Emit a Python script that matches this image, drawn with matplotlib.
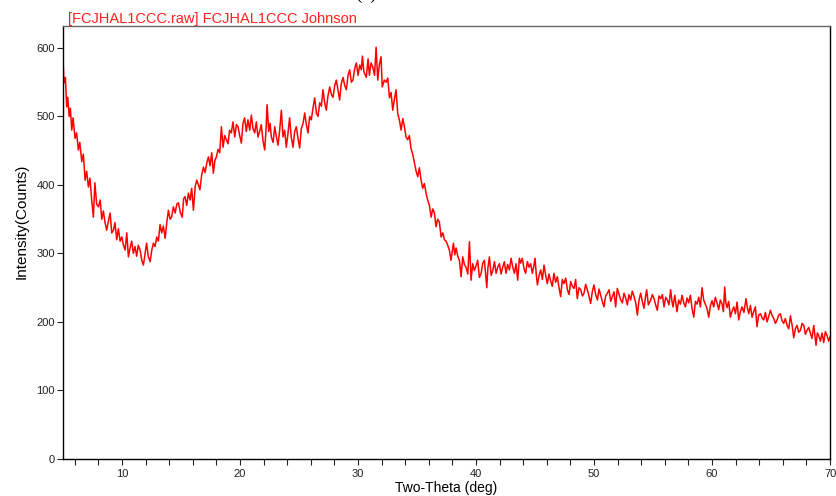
import matplotlib
matplotlib.use("Agg")
import matplotlib.pyplot as plt
from matplotlib.ticker import MultipleLocator

plt.rcParams['font.family'] = ['Liberation Sans', 'DejaVu Sans']

# scan: 2-theta (deg) and intensity (counts)
two_theta = [
    5.00, 5.05, 5.10, 5.20, 5.31, 5.40, 5.52, 5.62, 5.74, 5.85,
    6.02, 6.15, 6.30, 6.42, 6.59, 6.72, 6.87, 7.00, 7.15, 7.28,
    7.43, 7.57, 7.70, 7.85, 8.00, 8.15, 8.28, 8.42, 8.56, 8.70,
    8.85, 8.99, 9.13, 9.27, 9.40, 9.55, 9.69, 9.84, 9.98, 10.12,
    10.26, 10.40, 10.54, 10.68, 10.82, 10.96, 11.10, 11.24, 11.38, 11.53,
    11.67, 11.81, 11.95, 12.08, 12.22, 12.38, 12.52, 12.66, 12.80, 12.94,
    13.08, 13.22, 13.36, 13.50, 13.65, 13.79, 13.93, 14.07, 14.20, 14.35,
    14.50, 14.64, 14.78, 14.94, 15.10, 15.22, 15.34, 15.48, 15.62, 15.77,
    15.90, 16.05, 16.20, 16.33, 16.47, 16.60, 16.75, 16.90, 17.04, 17.18,
    17.32, 17.46, 17.60, 17.74, 17.87, 18.00, 18.14, 18.28, 18.42, 18.56,
    18.70, 18.84, 18.98, 19.12, 19.26, 19.40, 19.55, 19.69, 19.83, 19.97,
    20.11, 20.25, 20.39, 20.53, 20.67, 20.82, 20.96, 21.10, 21.24, 21.38,
    21.52, 21.66, 21.80, 21.94, 22.09, 22.20, 22.29, 22.43, 22.55, 22.65,
    22.80, 22.94, 23.08, 23.22, 23.36, 23.50, 23.64, 23.78, 23.92, 24.06,
    24.20, 24.34, 24.49, 24.63, 24.77, 24.91, 25.05, 25.19, 25.34, 25.48,
    25.62, 25.76, 25.90, 26.04, 26.18, 26.33, 26.47, 26.61, 26.75, 26.89,
    27.03, 27.17, 27.31, 27.45, 27.60, 27.74, 27.88, 28.02, 28.16, 28.30,
    28.44, 28.58, 28.73, 28.87, 29.01, 29.15, 29.29, 29.43, 29.57, 29.72,
    29.86, 30.00, 30.14, 30.28, 30.37, 30.50, 30.70, 30.85, 30.96, 31.10,
    31.25, 31.40, 31.53, 31.67, 31.80, 31.95, 32.05, 32.23, 32.38, 32.52,
    32.66, 32.80, 32.94, 33.08, 33.22, 33.36, 33.50, 33.65, 33.79, 33.93,
    34.07, 34.21, 34.35, 34.49, 34.63, 34.78, 34.92, 35.06, 35.20, 35.34,
    35.48, 35.62, 35.76, 35.90, 36.05, 36.19, 36.33, 36.47, 36.61, 36.75,
    36.89, 37.04, 37.18, 37.32, 37.46, 37.60, 37.74, 37.88, 38.08, 38.20,
    38.31, 38.45, 38.59, 38.73, 38.87, 39.01, 39.15, 39.30, 39.44, 39.58,
    39.72, 39.86, 40.00, 40.14, 40.28, 40.43, 40.57, 40.71, 40.91, 41.00,
    41.13, 41.28, 41.42, 41.56, 41.70, 41.84, 41.98, 42.12, 42.26, 42.40,
    42.54, 42.68, 42.83, 42.97, 43.11, 43.25, 43.39, 43.53, 43.67, 43.78,
    43.92, 44.06, 44.20, 44.35, 44.49, 44.63, 44.77, 44.90, 45.00, 45.10,
    45.20, 45.34, 45.48, 45.62, 45.76, 45.90, 46.04, 46.18, 46.32, 46.46,
    46.60, 46.75, 46.89, 47.03, 47.17, 47.31, 47.45, 47.60, 47.74, 47.88,
    48.02, 48.16, 48.30, 48.44, 48.58, 48.72, 48.87, 49.01, 49.15, 49.29,
    49.43, 49.57, 49.71, 49.85, 49.99, 50.14, 50.28, 50.42, 50.56, 50.70,
    50.84, 50.98, 51.13, 51.27, 51.41, 51.55, 51.69, 51.83, 51.97, 52.12,
    52.26, 52.40, 52.54, 52.68, 52.82, 52.96, 53.10, 53.24, 53.39, 53.53,
    53.67, 53.81, 53.95, 54.09, 54.23, 54.37, 54.46, 54.60, 54.80, 54.94,
    55.08, 55.22, 55.36, 55.50, 55.65, 55.79, 55.93, 56.07, 56.21, 56.35,
    56.49, 56.61, 56.69, 56.84, 57.03, 57.17, 57.32, 57.46, 57.60, 57.74,
    57.88, 58.02, 58.16, 58.30, 58.45, 58.59, 58.73, 58.87, 59.01, 59.15,
    59.29, 59.43, 59.57, 59.72, 59.86, 60.00, 60.14, 60.28, 60.42, 60.56,
    60.70, 60.85, 60.96, 61.07, 61.17, 61.27, 61.41, 61.55, 61.70, 61.84,
    61.98, 62.12, 62.26, 62.40, 62.54, 62.70, 62.88, 63.00, 63.11, 63.25,
    63.39, 63.53, 63.67, 63.81, 63.95, 64.10, 64.24, 64.38, 64.52, 64.66,
    64.80, 64.94, 65.08, 65.23, 65.37, 65.51, 65.65, 65.79, 65.93, 66.07,
    66.21, 66.36, 66.50, 66.64, 66.78, 66.92, 67.06, 67.20, 67.34, 67.49,
    67.63, 67.77, 67.91, 68.05, 68.19, 68.33, 68.47, 68.62, 68.72, 68.81,
    68.92, 69.04, 69.18, 69.32, 69.46, 69.60, 69.75, 69.88, 70.00,
]

counts = [
    585, 560, 549, 557, 514, 528, 500, 512, 480, 498,
    468, 476, 451, 462, 434, 445, 407, 420, 397, 410,
    378, 353, 403, 372, 368, 378, 350, 362, 345, 334,
    348, 359, 330, 334, 345, 320, 336, 318, 324, 312,
    305, 330, 295, 308, 318, 300, 310, 296, 312, 305,
    290, 283, 300, 315, 296, 288, 305, 315, 310, 324,
    318, 342, 330, 340, 322, 345, 363, 350, 353, 368,
    359, 372, 374, 360, 353, 380, 383, 370, 388, 378,
    395, 363, 398, 407, 400, 393, 415, 426, 418, 432,
    441, 428, 447, 417, 436, 441, 452, 447, 485, 455,
    472, 466, 460, 480, 476, 492, 470, 488, 485, 472,
    461, 490, 498, 478, 495, 480, 502, 482, 476, 492,
    470, 478, 488, 465, 451, 480, 517, 478, 490, 470,
    462, 485, 470, 458, 480, 509, 470, 480, 455, 475,
    498, 470, 455, 478, 485, 468, 454, 482, 490, 505,
    488, 476, 500, 495, 512, 527, 505, 500, 520, 515,
    539, 520, 509, 530, 543, 532, 528, 545, 553, 538,
    524, 548, 557, 545, 539, 560, 568, 550, 553, 570,
    578, 560, 575, 568, 588, 565, 557, 584, 560, 578,
    572, 560, 601, 553, 575, 587, 543, 553, 550, 556,
    527, 535, 509, 525, 539, 505, 495, 480, 497, 485,
    470, 466, 472, 453, 445, 432, 420, 412, 425, 407,
    395, 402, 388, 378, 370, 353, 365, 359, 339, 350,
    346, 324, 330, 320, 318, 312, 305, 290, 315, 298,
    308, 296, 290, 266, 295, 284, 280, 270, 317, 261,
    285, 275, 282, 290, 265, 271, 286, 290, 250, 278,
    295, 268, 275, 288, 271, 280, 285, 270, 280, 288,
    271, 284, 276, 293, 280, 271, 285, 261, 293, 286,
    293, 278, 271, 288, 280, 285, 271, 282, 293, 270,
    254, 268, 276, 262, 283, 268, 256, 270, 260, 252,
    271, 258, 266, 250, 237, 262, 256, 264, 247, 240,
    259, 252, 249, 262, 234, 250, 247, 238, 242, 255,
    247, 238, 227, 244, 254, 240, 232, 248, 239, 230,
    222, 238, 242, 247, 230, 237, 244, 222, 249, 240,
    232, 228, 242, 235, 225, 240, 232, 245, 237, 228,
    210, 232, 242, 230, 220, 238, 247, 225, 232, 240,
    234, 225, 217, 238, 234, 240, 222, 236, 232, 225,
    247, 229, 222, 239, 215, 232, 226, 239, 228, 222,
    235, 228, 239, 220, 207, 230, 226, 236, 222, 250,
    232, 226, 220, 207, 224, 231, 222, 236, 228, 218,
    232, 226, 215, 251, 228, 221, 230, 207, 216, 222,
    212, 229, 203, 215, 222, 214, 234, 220, 212, 224,
    207, 215, 222, 193, 210, 212, 206, 203, 214, 200,
    208, 217, 210, 205, 198, 203, 210, 212, 202, 198,
    205, 195, 190, 209, 196, 177, 190, 195, 185, 188,
    198, 195, 182, 188, 192, 184, 176, 195, 180, 166,
    184, 180, 172, 184, 170, 186, 180, 172, 178,
]

x_ticks = [10, 20, 30, 40, 50, 60, 70]
y_ticks = [0, 100, 200, 300, 400, 500, 600]

fig = plt.figure(figsize=(8.36, 4.96), dpi=100)
ax = fig.add_axes([0.0754, 0.0746, 0.9175, 0.873])

ax.plot(two_theta, counts, color='#ff0000', linewidth=1.1)

ax.set_xlim(5, 70)
ax.set_ylim(0, 632)
ax.set_xticks(x_ticks)
ax.set_yticks(y_ticks)
ax.xaxis.set_minor_locator(MultipleLocator(2))
ax.tick_params(axis='both', which='both', direction='out', length=4,
               width=0.8, labelsize=8, colors='#222222', pad=2)
ax.tick_params(axis='x', which='major', pad=3)

for side in ['left', 'bottom', 'right']:
    ax.spines[side].set_color('black')
    ax.spines[side].set_linewidth(1.0)
ax.spines['top'].set_color('#666666')
ax.spines['top'].set_linewidth(1.0)

ax.set_xlabel('Two-Theta (deg)', fontsize=10, labelpad=2)
fig.text(22 / 836, 1 - 221 / 496, 'Intensity(Counts)', rotation=90,
         fontsize=11, ha='center', va='center')

fig.text(68 / 836, 1 - 23 / 496, '[FCJHAL1CCC.raw] FCJHAL1CCC Johnson',
         color='#ff2020', fontsize=10.5, ha='left', va='baseline')
# panel letter sits just above the top edge
fig.text(366 / 836, 1.0 + 1 / 496, '(a)', family='Liberation Serif',
         fontsize=14, ha='center', va='baseline')

fig.savefig('out.png', dpi=100)
